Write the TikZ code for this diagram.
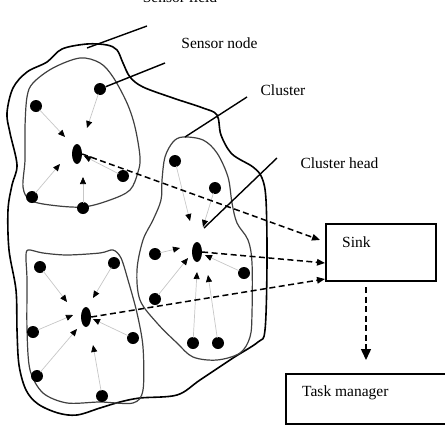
\documentclass[tikz,border=0pt]{standalone}
\usepackage{fontspec}
\setmainfont{Liberation Serif}
\usetikzlibrary{arrows.meta,shapes.geometric}
\begin{document}
\begin{tikzpicture}[x=1pt,y=-1pt,
  sensor/.style={circle,fill=black,inner sep=0pt,minimum size=12pt},
  head/.style={ellipse,fill=black,inner sep=0pt,minimum width=10pt,minimum height=20pt},
  feed/.style={draw=black!22,line width=0.7pt,shorten <=-1pt,-{Triangle[length=7pt,width=6pt,color=black]}},
  report/.style={draw=black,line width=1.5pt,dash pattern=on 6pt off 3.5pt,-{Triangle[length=8pt,width=6.5pt]}},
  pointer/.style={draw=black,line width=1.4pt},
  field/.style={draw=black,line width=1.6pt},
  clusterline/.style={draw=black!75,line width=1.2pt},
  boxnode/.style={draw=black,line width=1.4pt,inner sep=0pt},
  lbl/.style={font=\fontsize{15.5}{18}\selectfont,inner sep=0pt}
]
\useasboundingbox (0,0) rectangle (445,426);

% sensor field boundary
\draw[field] plot[smooth cycle,tension=0.55] coordinates {
 (87,44) (107,45) (117,50) (123,63) (130,77) (143,87) (173,98) (203,108) (217,115)
 (221,135) (232,154) (253,167) (262,178) (266,200) (267,263) (265,330) (258,342)
 (233,358) (200,380) (177,395) (140,398) (120,402) (100,408) (77,415) (58,413)
 (38,404) (26,390) (19,365) (17,330) (16,290) (9,250) (8,210) (12,185) (17,165)
 (10,133) (7,113) (13,88) (27,72) (47,62) (62,49)};

% cluster outlines
\draw[clusterline] plot[smooth cycle,tension=0.55] coordinates {
 (80,58) (100,63) (113,77) (127,103) (135,127) (140,157) (138,172) (130,190)
 (110,200) (83,207) (50,205) (30,200) (23,187) (25,160) (25,127) (27,97) (33,83) (53,68)};
\draw[clusterline] plot[smooth cycle,tension=0.55] coordinates {
 (183,137) (173,142) (165,157) (162,180) (161,200) (153,220) (143,240) (137,270)
 (140,300) (157,323) (177,343) (193,357) (217,360) (240,353) (250,337) (252,313)
 (252,263) (248,240) (237,223) (232,203) (228,177) (217,153) (203,140)};
\draw[clusterline] plot[smooth cycle,tension=0.5] coordinates {
 (28,250) (43,253) (67,255) (100,253) (113,250) (121,258) (128,280) (137,313)
 (143,347) (143,390) (133,403) (100,402) (67,403) (43,393) (30,370) (27,330)
 (27,280) (26,258)};

% cluster 1
\node[head] (h1) at (77,154) {};
\node[sensor] (a1) at (100,89) {};
\node[sensor] (a2) at (36,106) {};
\node[sensor] (a3) at (123,176) {};
\node[sensor] (a4) at (32,197) {};
\node[sensor] (a5) at (83,208) {};
\coordinate (ta1) at (87,128);
\coordinate (ta2) at (65,137);
\coordinate (ta3) at (84,156);
\coordinate (ta4) at (60,164);
\coordinate (ta5) at (83,177);
\foreach \i in {1,...,5} \draw[feed] (a\i) -- (ta\i);

% cluster 2
\node[head] (h2) at (197,252) {};
\node[sensor] (b1) at (175,161) {};
\node[sensor] (b2) at (215,188) {};
\node[sensor] (b3) at (155,254) {};
\node[sensor] (b4) at (244,273) {};
\node[sensor] (b5) at (155,299) {};
\node[sensor] (b6) at (193,343) {};
\node[sensor] (b7) at (218,343) {};
\coordinate (tb1) at (190,221);
\coordinate (tb2) at (203,227);
\coordinate (tb3) at (180,248);
\coordinate (tb4) at (205,255);
\coordinate (tb5) at (188,258);
\coordinate (tb6) at (197,272);
\coordinate (tb7) at (208,275);
\foreach \i in {1,...,7} \draw[feed] (b\i) -- (tb\i);

% cluster 3
\node[head] (h3) at (86,317) {};
\node[sensor] (c1) at (40,267) {};
\node[sensor] (c2) at (114,263) {};
\node[sensor] (c3) at (33,332) {};
\node[sensor] (c4) at (133,338) {};
\node[sensor] (c5) at (37,376) {};
\node[sensor] (c6) at (102,396) {};
\coordinate (tc1) at (67,302);
\coordinate (tc2) at (93,298);
\coordinate (tc3) at (73,315);
\coordinate (tc4) at (93,319);
\coordinate (tc5) at (77,329);
\coordinate (tc6) at (93,345);
\foreach \i in {1,...,6} \draw[feed] (c\i) -- (tc\i);

% sink and task manager
\node[boxnode,minimum width=110pt,minimum height=57pt] (sink) at (381,252.5) {};
\node[lbl,anchor=west] (sinklbl) at (342,242) {Sink};
\node[boxnode,minimum width=164pt,minimum height=50pt] (task) at (368,399) {};
\node[lbl,anchor=west] (tasklbl) at (302,393) {Task manager};

% reports to sink
\coordinate (s1) at (320,240);
\coordinate (s2) at (325,263);
\coordinate (s3) at (325,279);
\draw[report] (h1.east) -- (s1);
\draw[report] (h2.east) -- (s2);
\draw[report] (h3.east) -- (s3);
\coordinate (sk) at (366,287);
\coordinate (tk) at (366,360);
\draw[draw=black,line width=1.5pt,dash pattern=on 6pt off 3.5pt,-{Triangle[length=11pt,width=10pt]}] (sk) -- (tk);

% labels and pointer lines
\node[lbl,anchor=base] (fieldlbl) at (180,2) {Sensor field};
\coordinate (pf1) at (87,48);
\coordinate (pf2) at (147,26);
\draw[pointer] (pf1) -- (pf2);
\node[lbl] (nodelbl) at (219.5,43) {Sensor node};
\coordinate (pn) at (165,63);
\draw[pointer] (a1) -- (pn);
\node[lbl] (clusterlbl) at (283,90) {Cluster};
\coordinate (pc1) at (185,137);
\coordinate (pc2) at (247,97);
\draw[pointer] (pc1) -- (pc2);
\node[lbl] (headlbl) at (339.5,163) {Cluster head};
\coordinate (ph1) at (277,158);
\coordinate (ph2) at (204,228);
\draw[pointer] (ph1) -- (ph2);
\end{tikzpicture}
\end{document}
